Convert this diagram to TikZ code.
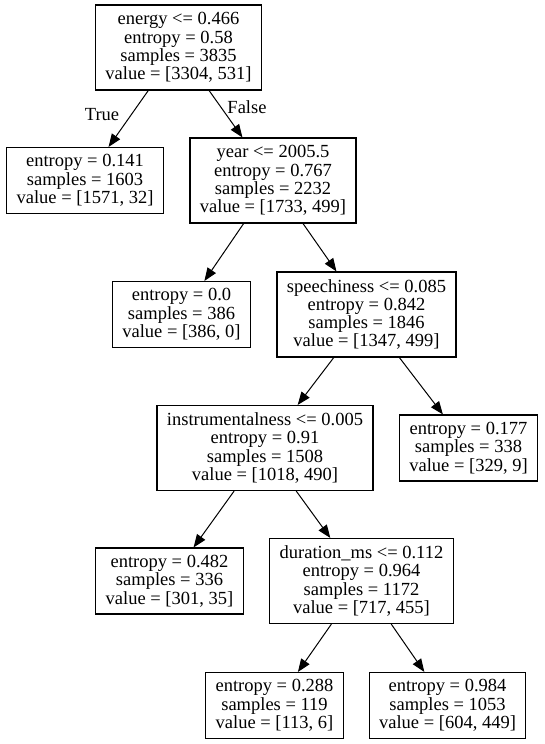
\documentclass[tikz,border=0pt]{standalone}
\usepackage{fontspec}
\setmainfont{Liberation Serif}
\usetikzlibrary{arrows.meta}

\begin{document}
\begin{tikzpicture}[x=1pt,y={(0pt,-1pt)},
          every node/.style={font=\fontsize{18.5}{18.3}\selectfont},
          split/.style={draw,line width=1.1pt,minimum height=85pt,
            inner xsep=10pt,align=center},
          leaf/.style={draw,line width=1.1pt,minimum height=66pt,
            inner xsep=10pt,align=center},
          ar/.style={-{Triangle[length=13pt,width=10pt]},line width=1pt}]
        \useasboundingbox (0,0) rectangle (545,744);
        \node[split] (root)  at (178.5,47.5)
          {energy <= 0.466\\entropy = 0.58\\samples = 3835\\value = [3304, 531]};
        \node[leaf]  (lowE)  at (85,180.5)
          {entropy = 0.141\\samples = 1603\\value = [1571, 32]};
        \node[split] (year)  at (273,180.5)
          {year <= 2005.5\\entropy = 0.767\\samples = 2232\\value = [1733, 499]};
        \node[leaf]  (old)   at (181.5,314.5)
          {entropy = 0.0\\samples = 386\\value = [386, 0]};
        \node[split] (speech) at (366.5,314.5)
          {speechiness <= 0.085\\entropy = 0.842\\samples = 1846\\value = [1347, 499]};
        \node[split] (instr) at (265,448)
          {instrumentalness <= 0.005\\entropy = 0.91\\samples = 1508\\value = [1018, 490]};
        \node[leaf]  (speechy) at (468.5,448)
          {entropy = 0.177\\samples = 338\\value = [329, 9]};
        \node[leaf]  (vocal) at (169.5,581)
          {entropy = 0.482\\samples = 336\\value = [301, 35]};
        \node[split] (dur)   at (361.5,581)
          {duration\_ms <= 0.112\\entropy = 0.964\\samples = 1172\\value = [717, 455]};
        \node[leaf]  (short) at (274.5,705.5)
          {entropy = 0.288\\samples = 119\\value = [113, 6]};
        \node[leaf]  (long)  at (447.5,705.5)
          {entropy = 0.984\\samples = 1053\\value = [604, 449]};

        \node (true)  at (102,115) {True};
        \node (false) at (247,107) {False};

        \draw[ar] (root) -- (lowE);
        \draw[ar] (root) -- (year);
        \draw[ar] (year) -- (old);
        \draw[ar] (year) -- (speech);
        \draw[ar] (speech) -- (instr);
        \draw[ar] (speech) -- (speechy);
        \draw[ar] (instr) -- (vocal);
        \draw[ar] (instr) -- (dur);
        \draw[ar] (dur) -- (short);
        \draw[ar] (dur) -- (long);
      \end{tikzpicture}
\end{document}
